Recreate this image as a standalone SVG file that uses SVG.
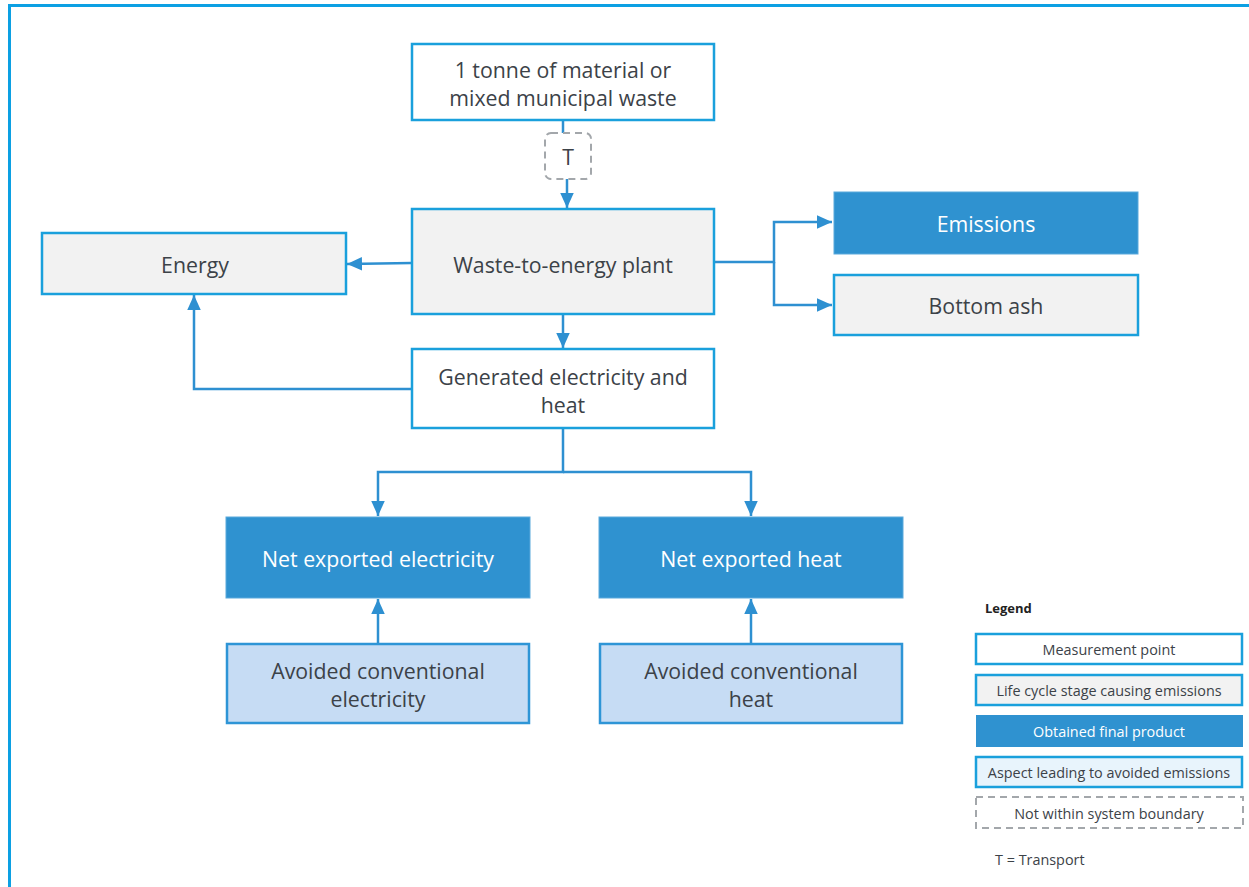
<svg xmlns="http://www.w3.org/2000/svg" width="1249" height="887" viewBox="0 0 1249 887">
<defs>
<marker id="ah" viewBox="0 0 10 10" refX="10" refY="5" markerWidth="15" markerHeight="15" markerUnits="userSpaceOnUse" orient="auto">
<path d="M0,0.5 L10,5 L0,9.5 z" fill="#2e90d1"/>
</marker>
<style>
.t{font-family:"Open Sans","Liberation Sans",Arial,sans-serif;fill:#3c4248;text-anchor:middle;dominant-baseline:central}
.big{font-size:21.3px}
.sm{font-size:14.4px}
.w{fill:#ffffff}
.meas{fill:#ffffff;stroke:#1aa0dc;stroke-width:2.5}
.life{fill:#f2f2f2;stroke:#1aa0dc;stroke-width:2.5}
.prod{fill:#2f92d0;stroke:#5aa9dc;stroke-width:1}
.avoid{fill:#c6dcf4;stroke:#2e95d6;stroke-width:2.5}
.asp{fill:#e8f4fc;stroke:#1aa0dc;stroke-width:2.5}
.dash{fill:#ffffff;stroke:#a3a7ab;stroke-width:2;stroke-dasharray:7 5}
.c{fill:none;stroke:#2e90d1;stroke-width:2.5}
</style>
</defs>
<rect x="9.5" y="5.5" width="1270" height="910" fill="none" stroke="#0ca0e3" stroke-width="3"/>

<g id="connectors">
<path class="c" d="M563,120 V133"/>
<path class="c" d="M567,179 V208" marker-end="url(#ah)"/>
<path class="c" d="M412,263 L347,264" marker-end="url(#ah)"/>
<path class="c" d="M563,314 V348" marker-end="url(#ah)"/>
<path class="c" d="M412,389 H194 V295" marker-end="url(#ah)"/>
<path class="c" d="M714,262 H774 V222 H832" marker-end="url(#ah)"/>
<path class="c" d="M774,262 V305 H832" marker-end="url(#ah)"/>
<path class="c" d="M563,428 V472 H378 V516" marker-end="url(#ah)"/>
<path class="c" d="M563,472 H751 V516" marker-end="url(#ah)"/>
<path class="c" d="M378,643 V599" marker-end="url(#ah)"/>
<path class="c" d="M751,643 V599" marker-end="url(#ah)"/>
</g>

<g id="input">
<rect class="meas" x="412" y="44" width="302" height="76"/>
<text class="t big" x="563" y="69">1 tonne of material or</text>
<text class="t big" x="563" y="97">mixed municipal waste</text>
</g>
<g id="transport">
<rect class="dash" x="545" y="133" width="46" height="46" rx="6"/>
<text class="t big" x="568" y="156">T</text>
</g>
<g id="plant">
<rect class="life" x="412" y="209" width="302" height="105"/>
<text class="t big" x="563" y="264">Waste-to-energy plant</text>
</g>
<g id="energy">
<rect class="life" x="42" y="233" width="304" height="61"/>
<text class="t big" x="195" y="264">Energy</text>
</g>
<g id="emissions">
<rect class="prod" x="834" y="192" width="304" height="62"/>
<text class="t big w" x="986" y="223">Emissions</text>
</g>
<g id="ash">
<rect class="life" x="834" y="275" width="304" height="60"/>
<text class="t big" x="986" y="305">Bottom ash</text>
</g>
<g id="generated">
<rect class="meas" x="412" y="349" width="302" height="79"/>
<text class="t big" x="563" y="376">Generated electricity and</text>
<text class="t big" x="563" y="404">heat</text>
</g>
<g id="net-electricity">
<rect class="prod" x="226" y="517" width="304" height="81"/>
<text class="t big w" x="378" y="558">Net exported electricity</text>
</g>
<g id="net-heat">
<rect class="prod" x="599" y="517" width="304" height="81"/>
<text class="t big w" x="751" y="558">Net exported heat</text>
</g>
<g id="avoided-electricity">
<rect class="avoid" x="227" y="644" width="302" height="79"/>
<text class="t big" x="378" y="670">Avoided conventional</text>
<text class="t big" x="378" y="698">electricity</text>
</g>
<g id="avoided-heat">
<rect class="avoid" x="600" y="644" width="302" height="79"/>
<text class="t big" x="751" y="670">Avoided conventional</text>
<text class="t big" x="751" y="698">heat</text>
</g>

<g id="legend">
<text class="t sm" x="985" y="608" style="text-anchor:start;font-weight:bold;font-size:13px;fill:#222">Legend</text>
<rect class="meas" x="976" y="634" width="266" height="30"/>
<text class="t sm" x="1109" y="649">Measurement point</text>
<rect class="life" x="976" y="675" width="266" height="30"/>
<text class="t sm" x="1109" y="690">Life cycle stage causing emissions</text>
<rect class="prod" x="976" y="715" width="267" height="32" style="stroke:none"/>
<text class="t sm w" x="1109" y="731">Obtained final product</text>
<rect class="asp" x="976" y="757" width="266" height="30"/>
<text class="t sm" x="1109" y="772">Aspect leading to avoided emissions</text>
<rect class="dash" x="976" y="797" width="267" height="31"/>
<text class="t sm" x="1109" y="813">Not within system boundary</text>
<text class="t sm" x="995" y="859" style="text-anchor:start">T = Transport</text>
</g>
</svg>
